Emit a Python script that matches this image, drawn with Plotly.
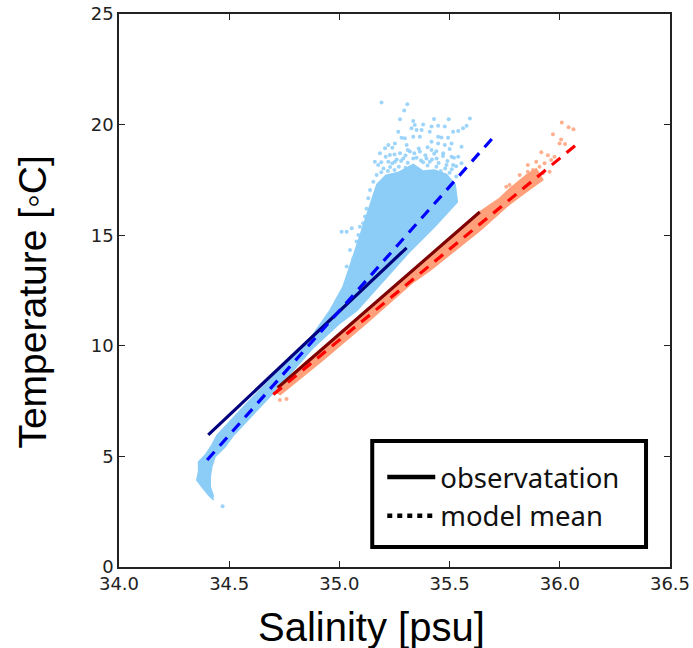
import plotly.graph_objects as go

# Dense part of the cold-water cloud, outline
blue_cloud_s = [34.429, 34.406, 34.376, 34.353, 34.361, 34.361, 34.391, 34.421, 34.444, 34.58, 34.73, 34.88, 34.957,
                35.016, 35.057, 35.09, 35.12, 35.14, 35.17, 35.21, 35.27, 35.335, 35.38, 35.43, 35.486, 35.525, 35.535,
                35.433, 35.312, 35.176, 35.08, 35.0, 34.88, 34.70, 34.519, 34.482, 34.436, 34.421, 34.414, 34.414, 34.429]
blue_cloud_t = [3.03, 3.25, 3.63, 3.93, 4.31, 4.76, 5.06, 5.51, 5.95, 7.4, 8.9, 10.5, 11.6,
                12.66, 13.88, 14.9, 15.8, 16.45, 17.3, 17.7, 17.85, 18.2, 17.9, 17.95, 17.75, 17.3, 16.5,
                15.39, 14.18, 12.67, 11.6, 11.0, 9.9, 7.87, 5.95, 5.44, 4.99, 4.53, 4.08, 3.63, 3.18]

# Sparse cold-water points
blue_pts_s = [35.191, 35.308, 35.294, 35.275, 35.335, 35.429, 35.496, 35.592, 35.577, 35.561, 35.539, 35.516, 35.478,
              35.448, 35.418, 35.410, 35.448, 35.463, 35.493, 35.327, 35.342, 35.380, 35.373, 35.350, 35.267, 35.282,
              35.297, 35.305, 35.252, 35.222, 35.207, 35.184, 35.161, 35.176, 35.252, 35.275, 35.335, 35.365, 35.418,
              35.448, 35.478, 35.509, 35.554, 35.539, 35.509, 35.471, 35.418, 35.365, 35.320, 35.290, 35.229, 35.222,
              35.516, 35.554, 35.486, 35.395, 35.335, 35.441,
              35.01, 35.033, 35.056, 35.086, 35.078, 35.048, 35.108, 35.123, 35.131, 35.139, 35.154, 35.169, 35.116,
              35.063, 35.033, 35.093, 34.47,
              35.24, 35.31, 35.36, 35.40, 35.44, 35.50,
              35.21, 35.25, 35.30, 35.34, 35.39, 35.43, 35.47, 35.52,
              35.19, 35.24, 35.28, 35.31, 35.37, 35.41, 35.45, 35.49, 35.53,
              35.20, 35.23, 35.27, 35.30, 35.40, 35.44, 35.48, 35.51,
              35.19, 35.22, 35.25, 35.46, 35.50, 35.53, 35.26, 35.35, 35.38, 35.42]
blue_pts_t = [21.00, 20.92, 20.64, 20.24, 20.16, 20.25, 20.24, 20.28, 19.95, 19.83, 19.71, 19.68, 19.91,
              19.95, 19.91, 19.68, 19.45, 19.42, 19.41, 19.83, 19.98, 20.01, 19.76, 19.76, 19.68, 19.41,
              19.38, 19.08, 19.15, 19.08, 18.93, 18.70, 18.32, 18.17, 18.32, 18.70, 19.45, 19.45, 19.23,
              19.15, 19.08, 19.15, 19.00, 18.55, 18.55, 18.70, 18.85, 18.78, 18.78, 18.47, 18.63, 18.32,
              18.17, 18.25, 18.17, 18.47, 18.47, 18.47,
              15.16, 15.16, 15.31, 15.01, 14.71, 14.33, 15.54, 16.2, 16.67, 17.04, 17.42, 17.72, 15.84,
              13.95, 13.58, 15.38, 2.75,
              18.95, 18.85, 18.92, 18.98, 18.8, 18.9,
              18.55, 18.65, 18.6, 18.7, 18.62, 18.68, 18.58, 18.5,
              18.3, 18.25, 18.35, 18.28, 18.38, 18.32, 18.26, 18.36, 18.12,
              18.02, 18.08, 18.1, 18.05, 18.15, 18.1, 18.02, 17.98,
              17.85, 17.9, 17.95, 17.9, 17.82, 17.65, 18.42, 18.5, 18.3, 18.42]

# Warm-water band, outline
red_cloud_s = [34.71, 34.72, 34.85, 35.0, 35.124, 35.30, 35.45, 35.637, 35.727, 35.772, 35.848, 35.893,
               35.923, 35.818, 35.76, 35.637, 35.41, 35.33, 35.124, 34.926, 34.73]
red_cloud_t = [7.87, 8.1, 9.3, 10.5, 11.6, 13.1, 14.4, 16.06, 16.67, 17.1, 17.72, 18.0,
               17.5, 16.74, 16.3, 15.2, 13.4, 12.84, 11.03, 9.36, 7.78]

red_pts_s = [36.009, 36.040, 36.062, 35.969, 36.006, 35.999, 36.024, 35.916, 35.946, 35.976, 35.961, 35.855, 35.893,
             35.931, 35.954, 35.923, 35.855, 35.818, 35.772, 35.878, 35.908, 35.757, 34.76, 34.73]
red_pts_t = [20.10, 19.88, 19.79, 19.56, 19.33, 19.15, 19.12, 18.75, 18.62, 18.55, 18.4, 18.17, 18.32,
             18.25, 17.87, 17.80, 17.87, 17.72, 17.27, 17.95, 18.10, 17.19, 7.6, 7.55]

obs_blue_s, obs_blue_t = [34.405, 35.305], [5.97, 14.43]
model_blue_s, model_blue_t = [34.40, 35.695], [4.84, 19.39]
obs_red_s, obs_red_t = [34.72, 35.637], [8.1, 16.05]
model_red_s, model_red_t = [34.70, 36.07], [7.8, 19.05]

x_ticks = [34.0, 34.5, 35.0, 35.5, 36.0, 36.5]
y_ticks = [0, 5, 10, 15, 20, 25]
legend_names = ["observatation", "model mean"]

BLUE_CLOUD = "#8ccdf8"
RED_CLOUD = "#ffa07a"

fig = go.Figure()


def cloud(xs, ys, color):
    fig.add_trace(go.Scatter(x=xs, y=ys, mode="lines", fill="toself", fillcolor=color,
                             line=dict(color=color, width=1.5), showlegend=False, hoverinfo="skip"))


def dots(xs, ys, color):
    fig.add_trace(go.Scatter(x=xs, y=ys, mode="markers", marker=dict(color=color, size=4, opacity=0.85),
                             showlegend=False))


def line(xs, ys, color, dash):
    fig.add_trace(go.Scatter(x=xs, y=ys, mode="lines", line=dict(color=color, width=3.2, dash=dash),
                             showlegend=False))


cloud(blue_cloud_s, blue_cloud_t, BLUE_CLOUD)
dots(blue_pts_s, blue_pts_t, BLUE_CLOUD)
cloud(red_cloud_s, red_cloud_t, RED_CLOUD)
dots(red_pts_s, red_pts_t, RED_CLOUD)
line(obs_blue_s, obs_blue_t, "#00007f", "solid")
line(model_blue_s, model_blue_t, "#0000ff", "11px,8px")
line(obs_red_s, obs_red_t, "#7f0000", "solid")
line(model_red_s, model_red_t, "#ff0000", "11px,8px")

# Legend keys
fig.add_trace(go.Scatter(x=[None], y=[None], mode="lines", name=legend_names[0],
                         line=dict(color="black", width=4.5)))
fig.add_trace(go.Scatter(x=[None], y=[None], mode="lines", name=legend_names[1],
                         line=dict(color="black", width=4.5, dash="5px,5px")))

axis_common = dict(showgrid=False, zeroline=False, showline=True, linecolor="#222222", linewidth=1.5,
                   mirror="ticks", ticks="inside", ticklen=6, tickcolor="#222222", tickwidth=1,
                   automargin=False,
                   tickfont=dict(family="DejaVu Sans", size=18, color="#222222"))

fig.update_layout(
    width=693, height=648, autosize=False,
    margin=dict(l=118.6, r=23, t=14, b=81),
    paper_bgcolor="white", plot_bgcolor="white",
    xaxis=dict(range=[34.0, 36.5], tickvals=x_ticks, ticktext=[f"{v:.1f}" for v in x_ticks], **axis_common),
    yaxis=dict(range=[0, 25], tickvals=y_ticks, **axis_common),
    legend=dict(x=0.4778, y=0.207, xanchor="left", yanchor="top", bgcolor="rgba(0,0,0,0)",
                borderwidth=0, itemwidth=48, tracegroupgap=3,
                font=dict(family="Noto Sans", size=27.5, color="#111111")),
    shapes=[dict(type="rect", xref="paper", yref="paper", x0=0.4596, x1=0.9565, y0=0.0362, y1=0.2278,
                 line=dict(color="black", width=4), fillcolor="white", layer="above")],
    annotations=[
        dict(text="Salinity [psu]", xref="paper", yref="paper", x=0.4577, y=-0.1085, xanchor="center", yanchor="middle",
             showarrow=False, font=dict(family="Liberation Sans", size=40, color="black")),
        dict(text="Temperature [◦C]", xref="paper", yref="paper", x=-0.157, y=0.479, xanchor="center", yanchor="middle",
             textangle=-90, showarrow=False, font=dict(family="Liberation Sans", size=39, color="black")),
    ],
)

fig.write_html("out.html", config={"displayModeBar": False},
               post_script="document.body.style.margin='0';document.documentElement.style.overflow='hidden';")
